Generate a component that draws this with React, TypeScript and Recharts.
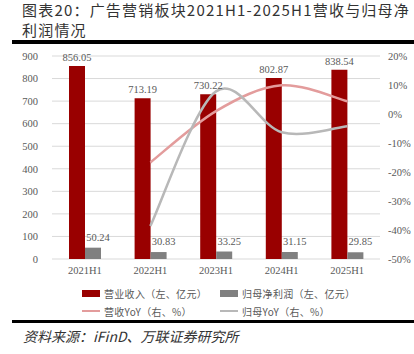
import React from 'react';
import { ComposedChart, Bar, Line, XAxis, YAxis, CartesianGrid, Legend, LabelList } from 'recharts';

const categories = ['2021H1', '2022H1', '2023H1', '2024H1', '2025H1'];
const revenue = [856.05, 713.19, 730.22, 802.87, 838.54];
const netProfit = [50.24, 30.83, 33.25, 31.15, 29.85];
const revenueYoY = [null, -16.7, 1.0, 9.9, 4.4];
const profitYoY = [null, -38.6, 7.8, -6.3, -4.2];
const leftTicks = [0, 100, 200, 300, 400, 500, 600, 700, 800, 900];
const rightTicks = [-50, -40, -30, -20, -10, 0, 10, 20];

const data = categories.map((cat, i) => ({
  cat,
  revenue: revenue[i],
  netProfit: netProfit[i],
  revenueYoY: revenueYoY[i],
  profitYoY: profitYoY[i],
}));

const RED = '#990000';
const GREY = '#808080';
const PINK = '#e39c9c';
const LIGHT_GREY = '#b8b8b8';
const TEXT = '#595959';
const SERIF = '"Liberation Serif", "DejaVu Serif", serif';
const CJK = '"Noto Sans CJK SC", sans-serif';

// smoothed line like the office chart one (catmull-rom style bezier)
const smoothCurve = (context: any) => {
  let pts: number[][] = [];
  return {
    areaStart() {},
    areaEnd() {},
    lineStart() {
      pts = [];
    },
    point(x: number, y: number) {
      pts.push([+x, +y]);
    },
    lineEnd() {
      if (!pts.length) return;
      context.moveTo(pts[0][0], pts[0][1]);
      for (let i = 0; i < pts.length - 1; i++) {
        const p0 = pts[Math.max(i - 1, 0)];
        const p1 = pts[i];
        const p2 = pts[i + 1];
        const p3 = pts[Math.min(i + 2, pts.length - 1)];
        context.bezierCurveTo(
          p1[0] + (p2[0] - p0[0]) / 6,
          p1[1] + (p2[1] - p0[1]) / 6,
          p2[0] - (p3[0] - p1[0]) / 6,
          p2[1] - (p3[1] - p1[1]) / 6,
          p2[0],
          p2[1]
        );
      }
    },
  };
};

const legendItems = [
  { label: '营业收入（左、亿元）', color: RED, kind: 'rect', left: 82, top: 0 },
  { label: '归母净利润（左、亿元）', color: GREY, kind: 'rect', left: 220, top: 0 },
  { label: '营收YoY（右、%）', color: PINK, kind: 'line', left: 82, top: 18 },
  { label: '归母YoY（右、%）', color: LIGHT_GREY, kind: 'line', left: 220, top: 18 },
];

const ChartLegend = () => (
  <div style={{ position: 'relative', width: 414, height: 36, fontFamily: CJK, fontSize: 10, color: TEXT }}>
    {legendItems.map((item) => (
      <div
        key={item.label}
        style={{ position: 'absolute', left: item.left, top: item.top, height: 18, display: 'flex', alignItems: 'center' }}
      >
        <span
          style={{
            display: 'inline-block',
            width: 18,
            height: item.kind === 'rect' ? 7 : 2,
            background: item.color,
            marginRight: 4,
          }}
        />
        <span style={{ whiteSpace: 'nowrap', letterSpacing: 0.3 }}>{item.label}</span>
      </div>
    ))}
  </div>
);

export default function App() {
  return (
    <div
      style={{
        position: 'absolute',
        left: 0,
        top: 0,
        width: 414,
        height: 354,
        background: '#fff',
        overflow: 'hidden',
      }}
    >
      <div
        style={{
          position: 'absolute',
          left: 22,
          top: 0,
          fontFamily: CJK,
          fontSize: 15,
          lineHeight: '19.5px',
          letterSpacing: 1.2,
          color: '#333',
          whiteSpace: 'nowrap',
        }}
      >
        图表20：广告营销板块2021H1-2025H1营收与归母净
        <br />
        利润情况
      </div>
      <div style={{ position: 'absolute', left: 12, top: 40, width: 402, height: 3.5, background: '#000' }} />

      <div style={{ position: 'absolute', left: 0, top: 0 }}>
        <ComposedChart
          width={414}
          height={330}
          data={data}
          margin={{ top: 56, right: 0, left: 0, bottom: 41 }}
          barGap={0}
        >
          <CartesianGrid vertical={false} stroke="#d9d9d9" yAxisId="l" />
          <XAxis
            dataKey="cat"
            height={30}
            axisLine={false}
            tickLine={false}
            tick={{ fill: TEXT, fontSize: 10.5, fontFamily: SERIF }}
          />
          <YAxis
            yAxisId="l"
            width={52}
            domain={[0, 900]}
            ticks={leftTicks}
            interval={0}
            axisLine={false}
            tickLine={false}
            tickMargin={8}
            tick={{ fill: TEXT, fontSize: 10.5, fontFamily: SERIF }}
          />
          <YAxis
            yAxisId="r"
            orientation="right"
            width={34}
            domain={[-50, 20]}
            ticks={rightTicks}
            interval={0}
            axisLine={false}
            tickLine={false}
            tickFormatter={(v: number) => `${v}%`}
            tick={{ fill: TEXT, fontSize: 10.5, fontFamily: SERIF }}
          />
          <Legend
            layout="horizontal"
            verticalAlign="middle"
            align="center"
            wrapperStyle={{ top: 284, left: 0, width: 414 }}
            content={() => <ChartLegend />}
          />
          <Bar yAxisId="l" dataKey="revenue" fill={RED} barSize={16} isAnimationActive={false}>
            <LabelList
              dataKey="revenue"
              position="top"
              fill={TEXT}
              fontSize={10.5}
              fontFamily={SERIF}
              formatter={(v: any) => Number(v).toFixed(2)}
            />
          </Bar>
          <Bar yAxisId="l" dataKey="netProfit" fill={GREY} barSize={16} isAnimationActive={false}>
            <LabelList
              dataKey="netProfit"
              position="top"
              offset={7}
              dx={5}
              fill={TEXT}
              fontSize={10.5}
              fontFamily={SERIF}
              formatter={(v: any) => Number(v).toFixed(2)}
            />
          </Bar>
          <Line
            yAxisId="r"
            dataKey="revenueYoY"
            type={smoothCurve as any}
            stroke={PINK}
            strokeWidth={2.5}
            dot={false}
            isAnimationActive={false}
          />
          <Line
            yAxisId="r"
            dataKey="profitYoY"
            type={smoothCurve as any}
            stroke={LIGHT_GREY}
            strokeWidth={2.5}
            dot={false}
            isAnimationActive={false}
          />
        </ComposedChart>
      </div>

      <div style={{ position: 'absolute', left: 12, top: 320, width: 402, height: 2.7, background: '#000' }} />
      <div
        style={{
          position: 'absolute',
          left: 23,
          top: 326,
          fontFamily: CJK,
          fontSize: 14,
          fontStyle: 'italic',
          color: '#333',
          whiteSpace: 'nowrap',
        }}
      >
        资料来源：iFinD、万联证券研究所
      </div>
    </div>
  );
}
